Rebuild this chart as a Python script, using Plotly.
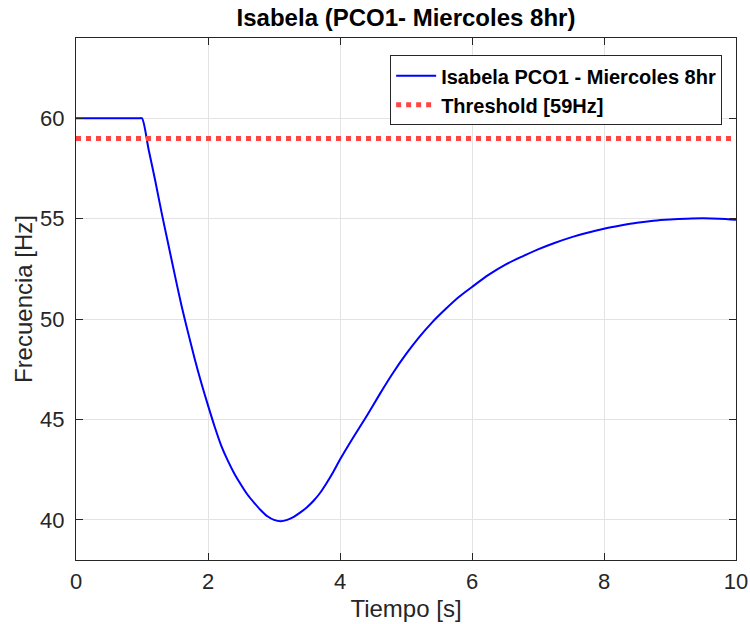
import plotly.graph_objects as go

# Data
tiempo = [0, 0.95, 1.0, 1.1, 1.2, 1.3, 1.4, 1.5, 1.6, 1.7, 1.8, 1.9, 2.0, 2.1, 2.2, 2.3,
          2.4, 2.5, 2.6, 2.7, 2.8, 2.9, 3.0, 3.1, 3.2, 3.3, 3.4, 3.5, 3.6, 3.7,
          3.8, 3.9, 4.0, 4.2, 4.4, 4.6, 4.8, 5.0, 5.2, 5.4, 5.6, 5.8, 6.0, 6.25,
          6.5, 6.75, 7.0, 7.25, 7.5, 7.75, 8.0, 8.25, 8.5, 8.75, 9.0, 9.25, 9.5,
          9.75, 10.0]
frecuencia = [60, 60, 60, 58.45, 56.9, 55.25, 53.7, 52.15, 50.65, 49.3, 48.0, 46.8,
              45.7, 44.65, 43.7, 42.95, 42.3, 41.75, 41.25, 40.85, 40.48, 40.18,
              40.0, 39.93, 40.0, 40.15, 40.37, 40.63, 40.95, 41.35, 41.85, 42.4,
              43.0, 44.1, 45.15, 46.25, 47.3, 48.25, 49.1, 49.85, 50.5, 51.1,
              51.6, 52.2, 52.7, 53.1, 53.47, 53.79, 54.07, 54.3, 54.5, 54.66,
              54.8, 54.9, 54.96, 55.0, 55.02, 55.0, 54.95]
threshold_t = [0, 10]
threshold_f = [59, 59]

x_ticks = [0, 2, 4, 6, 8, 10]
y_ticks = [40, 45, 50, 55, 60]

series_name = "Isabela PCO1 - Miercoles 8hr"
threshold_name = "Threshold [59Hz]"
title_text = "Isabela (PCO1- Miercoles 8hr)"

FONT = "Liberation Sans, Arial, Helvetica, sans-serif"
AXC = "#262626"

fig = go.Figure()
fig.add_trace(go.Scatter(x=tiempo, y=frecuencia, mode="lines", name=series_name,
                         line=dict(color="#0000ff", width=2, shape="spline", smoothing=0.7)))
fig.add_trace(go.Scatter(x=threshold_t, y=threshold_f, mode="lines", name=threshold_name,
                         line=dict(color="#ff4444", width=5, dash="dot")))

axis_common = dict(
    showline=True, linecolor=AXC, linewidth=1, mirror="ticks",
    ticks="inside", ticklen=7, tickcolor=AXC, tickwidth=1,
    showgrid=True, gridcolor="#e3e3e3", gridwidth=1,
    zeroline=False, automargin=False,
    tickfont=dict(family=FONT, size=22, color=AXC),
)

fig.update_xaxes(range=[0, 10], tickvals=x_ticks, ticklabelstandoff=2,
                 title=dict(text="Tiempo [s]", font=dict(family=FONT, size=24, color=AXC), standoff=6),
                 **axis_common)
fig.update_yaxes(range=[38, 64], tickvals=y_ticks, ticklabelstandoff=6,
                 title=dict(text="Frecuencia [Hz]", font=dict(family=FONT, size=24, color=AXC), standoff=0),
                 **axis_common)

fig.update_layout(
    width=750, height=624,
    margin=dict(l=76, r=14, t=38, b=64),
    paper_bgcolor="white", plot_bgcolor="white",
    title=dict(text="<b>" + title_text + "</b>", x=0.5, xref="paper", xanchor="center",
               y=1 - 18 / 624, yref="container", yanchor="middle",
               font=dict(family=FONT, size=24, color="#000000")),
    legend=dict(x=0.979, y=0.967, xanchor="right", yanchor="top",
                bgcolor="white", bordercolor=AXC, borderwidth=1,
                font=dict(family=FONT, size=20, color="#000000", weight="bold"),
                itemwidth=40, tracegroupgap=0),
    showlegend=True,
)

fig.write_html("out.html", config={"displayModeBar": False},
               post_script="document.body.style.margin='0';document.body.style.overflow='hidden';")
